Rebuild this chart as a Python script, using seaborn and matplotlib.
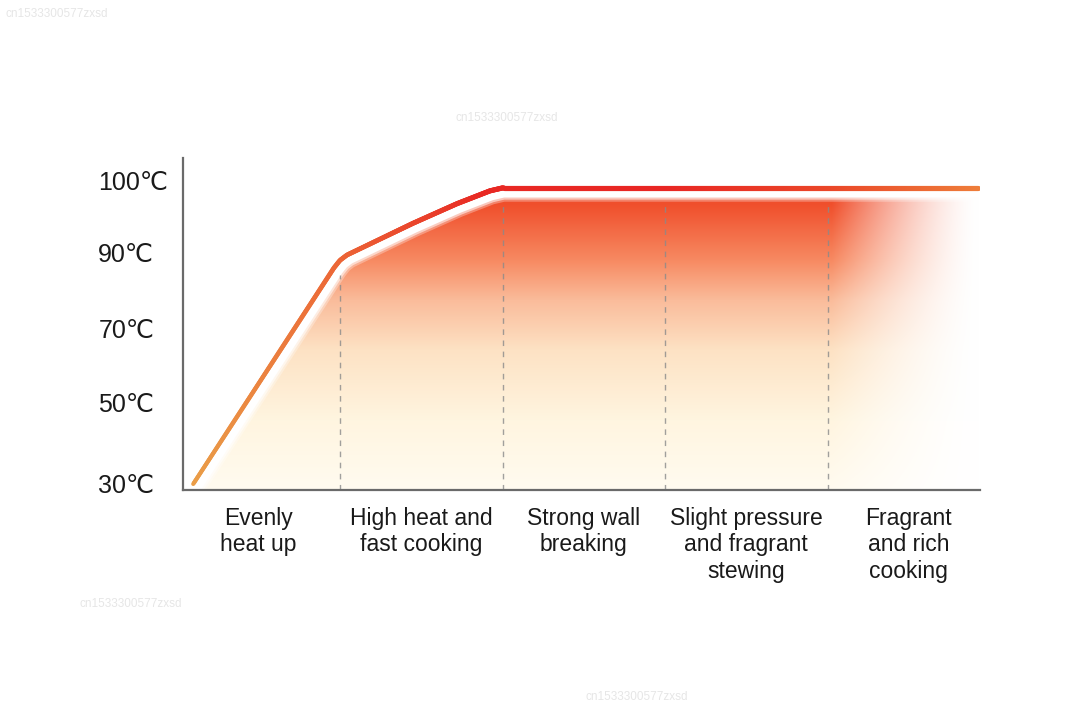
import numpy as np
import matplotlib
matplotlib.use("Agg")
import matplotlib.pyplot as plt
import seaborn as sns
import pandas as pd
from matplotlib.collections import LineCollection
from matplotlib.patches import Polygon

# ---------------- data ----------------
stages = ["Evenly\nheat up", "High heat and\nfast cooking", "Strong wall\nbreaking",
          "Slight pressure\nand fragrant\nstewing", "Fragrant\nand rich\ncooking"]
temp_labels = ["30℃", "50℃", "70℃", "90℃", "100℃"]
# heating curve (x in stage units, y in temperature-tick units)
curve_x = [0.097, 0.963, 1.0, 1.043, 1.449, 1.72, 1.923, 2.003, 4.926]
curve_y = [-0.013, 2.85, 2.95, 3.02, 3.44, 3.70, 3.87, 3.91, 3.91]
watermark = "cn1533300577zxsd"

# ---------------- style ----------------
sns.set_theme(style="white")
plt.rcParams["font.family"] = ["Liberation Sans", "DejaVu Sans", "Noto Sans CJK SC"]

fig = plt.figure(figsize=(10.8, 7.1), dpi=100)
ax = fig.add_axes([183 / 1080, 1 - 490 / 710, (980 - 183) / 1080, (490 - 158) / 710])
ax.set_xlim(0.034, 4.938)
ax.set_ylim(-0.093, 4.305)

cx = np.asarray(curve_x)
cy = np.asarray(curve_y)

# ---------------- gradient fill ----------------
nx, ny = 600, 400
gx = np.linspace(0.034, 4.938, nx)
gy = np.linspace(-0.093, 4.0, ny)
GX, GY = np.meshgrid(gx, gy)
band_y = [-0.1, 0.83, 1.76, 2.42, 2.95, 3.68, 4.0]
band_c = np.array([[255, 251, 240], [255, 245, 224], [253, 226, 196], [250, 188, 155],
                   [247, 138, 98], [240, 80, 45], [238, 72, 40]]) / 255
col = np.stack([np.interp(GY, band_y, band_c[:, i]) for i in range(3)], axis=-1)
# fade to white at right
wr = np.clip((4.93 - GX) / 0.9, 0, 1)[..., None] ** 1.5
col = 1 - (1 - col) * wr
img = ax.imshow(np.clip(col, 0, 1), origin="lower", aspect="auto",
                extent=[gx[0], gx[-1], gy[0], gy[-1]], zorder=1, interpolation="bilinear")
poly = Polygon(np.column_stack([np.r_[cx, cx[-1], cx[0]], np.r_[cy, -0.093, -0.093]]),
               closed=True, transform=ax.transData, facecolor="none", edgecolor="none")
ax.add_patch(poly)
img.set_clip_path(poly)

# ---------------- white halo ----------------
df = pd.DataFrame({"x": cx, "y": cy})
for lw, a in [(20, 0.3), (17, 0.55), (14, 1.0)]:
    sns.lineplot(data=df, x="x", y="y", ax=ax, color="white", lw=lw, alpha=a,
                 solid_capstyle="round", solid_joinstyle="round", sort=False,
                 estimator=None, zorder=2.2)

# ---------------- dashed stage dividers ----------------
for b in range(1, len(stages)):
    ytop = np.interp(b, cx, cy) - 0.2
    ax.plot([b, b], [-0.093, ytop], ls=(0, (4, 4)), color="#8a8a8a", lw=1.0,
            alpha=0.8, zorder=2.3)

# ---------------- gradient line ----------------
dx = np.linspace(cx[0], cx[-1], 800)
dy = np.interp(dx, cx, cy)
pts = np.column_stack([dx, dy]).reshape(-1, 1, 2)
segs = np.concatenate([pts[:-1], pts[1:]], axis=1)
stops_x = [0.095, 0.95, 1.9, 3.0, 4.0, 4.93]
stops_c = np.array([[234, 158, 72], [236, 105, 55], [232, 40, 35],
                    [232, 38, 35], [234, 70, 40], [238, 125, 58]]) / 255
mx = (dx[:-1] + dx[1:]) / 2
segcol = np.column_stack([np.interp(mx, stops_x, stops_c[:, i]) for i in range(3)])
lwid = np.interp(mx, [0.1, 1.0, 2.0], [3.0, 3.4, 3.7])
lc = LineCollection(segs, colors=segcol, linewidths=lwid, capstyle="round",
                    joinstyle="round", zorder=3)
ax.add_collection(lc)

# ---------------- axes ----------------
sns.despine(ax=ax)
for s in ["left", "bottom"]:
    ax.spines[s].set_color("#6a6a6a")
    ax.spines[s].set_linewidth(1.6)
    ax.spines[s].set_zorder(2.5)

ax.set_xticks([i + 0.5 for i in range(len(stages))])
ax.set_xticklabels(stages, fontsize=16.5, color="#1a1a1a", linespacing=1.2, va="top")
ax.set_yticks([0.0, 1.06, 2.05, 3.05, 4.01])
ax.set_yticklabels(temp_labels, fontsize=18, color="#1a1a1a")
ax.tick_params(axis="both", length=0)
ax.tick_params(axis="x", pad=12)
ax.tick_params(axis="y", pad=61)
for lbl in ax.get_yticklabels():
    lbl.set_horizontalalignment("left")
ax.set_xlabel("")
ax.set_ylabel("")
ax.grid(False)

# ---------------- watermarks ----------------
for (px, py) in [(5, 14), (455, 118), (80, 604), (585, 697)]:
    fig.text(px / 1080, 1 - py / 710, watermark, fontsize=8.5, color="#e6e6e6",
             ha="left", va="center")

fig.savefig("out.png", dpi=100, facecolor="white")
